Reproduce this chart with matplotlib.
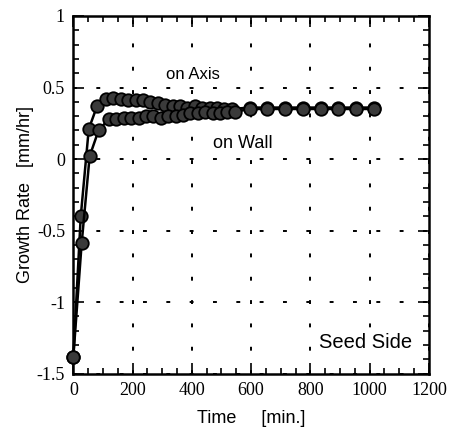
import numpy as np
import matplotlib.pyplot as plt
from matplotlib.ticker import MultipleLocator

plt.rcParams['axes.unicode_minus'] = False

# growth rate on the axis [mm/hr] vs time [min.]
t_axis = [0, 25, 52, 80, 110, 135, 160, 185, 210, 235, 260, 285, 310, 335, 360,
          385, 410, 435, 460, 485, 510, 535, 595, 655, 715, 775, 835, 895, 955, 1015]
g_axis = [-1.38, -0.40, 0.21, 0.37, 0.42, 0.43, 0.42, 0.41, 0.41, 0.41, 0.40, 0.39,
          0.38, 0.37, 0.37, 0.36, 0.37, 0.36, 0.36, 0.36, 0.35, 0.35,
          0.36, 0.36, 0.36, 0.36, 0.36, 0.36, 0.36, 0.36]

# growth rate on the wall
t_wall = [0, 28, 55, 85, 120, 145, 170, 195, 220, 245, 270, 295, 320, 345, 370,
          395, 420, 445, 470, 495, 520, 545, 595, 655, 715, 775, 835, 895, 955, 1015]
g_wall = [-1.38, -0.59, 0.02, 0.20, 0.28, 0.28, 0.29, 0.29, 0.29, 0.30, 0.30, 0.29,
          0.30, 0.30, 0.31, 0.32, 0.32, 0.33, 0.32, 0.32, 0.33, 0.33,
          0.35, 0.35, 0.35, 0.35, 0.35, 0.35, 0.35, 0.35]

fig = plt.figure(figsize=(4.5, 4.32), dpi=100)
ax = fig.add_axes([0.163, 0.135, 0.79, 0.828])

for t, g in [(t_axis, g_axis), (t_wall, g_wall)]:
    ax.plot(t, g, '-', color='black', lw=1.8, marker='o', ms=9,
            mfc='#3a3a3a', mec='black', mew=1.3, clip_on=False, zorder=3)

ax.set_xlim(0, 1200)
ax.set_ylim(-1.5, 1)
ax.xaxis.set_major_locator(MultipleLocator(200))
ax.xaxis.set_minor_locator(MultipleLocator(50))
ax.yaxis.set_major_locator(MultipleLocator(0.5))
ax.yaxis.set_minor_locator(MultipleLocator(0.1))
ax.yaxis.set_major_formatter(lambda v, p: f"{v:g}")

ax.grid(True, which='major', color='black', linestyle=(0, (2, 10)), lw=1.4)
ax.tick_params(which='both', direction='in', top=True, right=True, width=1.2)
ax.tick_params(which='major', length=8, pad=6)
ax.tick_params(which='minor', length=4)
for lab in ax.get_xticklabels() + ax.get_yticklabels():
    lab.set_family('Liberation Serif')
    lab.set_fontsize(13)
for s in ax.spines.values():
    s.set_linewidth(1.8)

ax.set_xlabel("Time     [min.]", family='Liberation Sans', fontsize=13, labelpad=8)
ax.set_ylabel("Growth Rate   [mm/hr]", family='Liberation Sans', fontsize=13, labelpad=2)

box = dict(facecolor='white', edgecolor='none', pad=1.5)
ax.text(312, 0.59, "on Axis", family='Liberation Sans', fontsize=12, va='center', bbox=box, zorder=2.5)
ax.text(470, 0.11, "on Wall", family='Liberation Sans', fontsize=13, va='center', bbox=box, zorder=2.5)
ax.text(829, -1.28, "Seed Side", family='Liberation Sans', fontsize=14.5, va='center', bbox=box, zorder=2.5)

fig.savefig("out.png", dpi=100)
